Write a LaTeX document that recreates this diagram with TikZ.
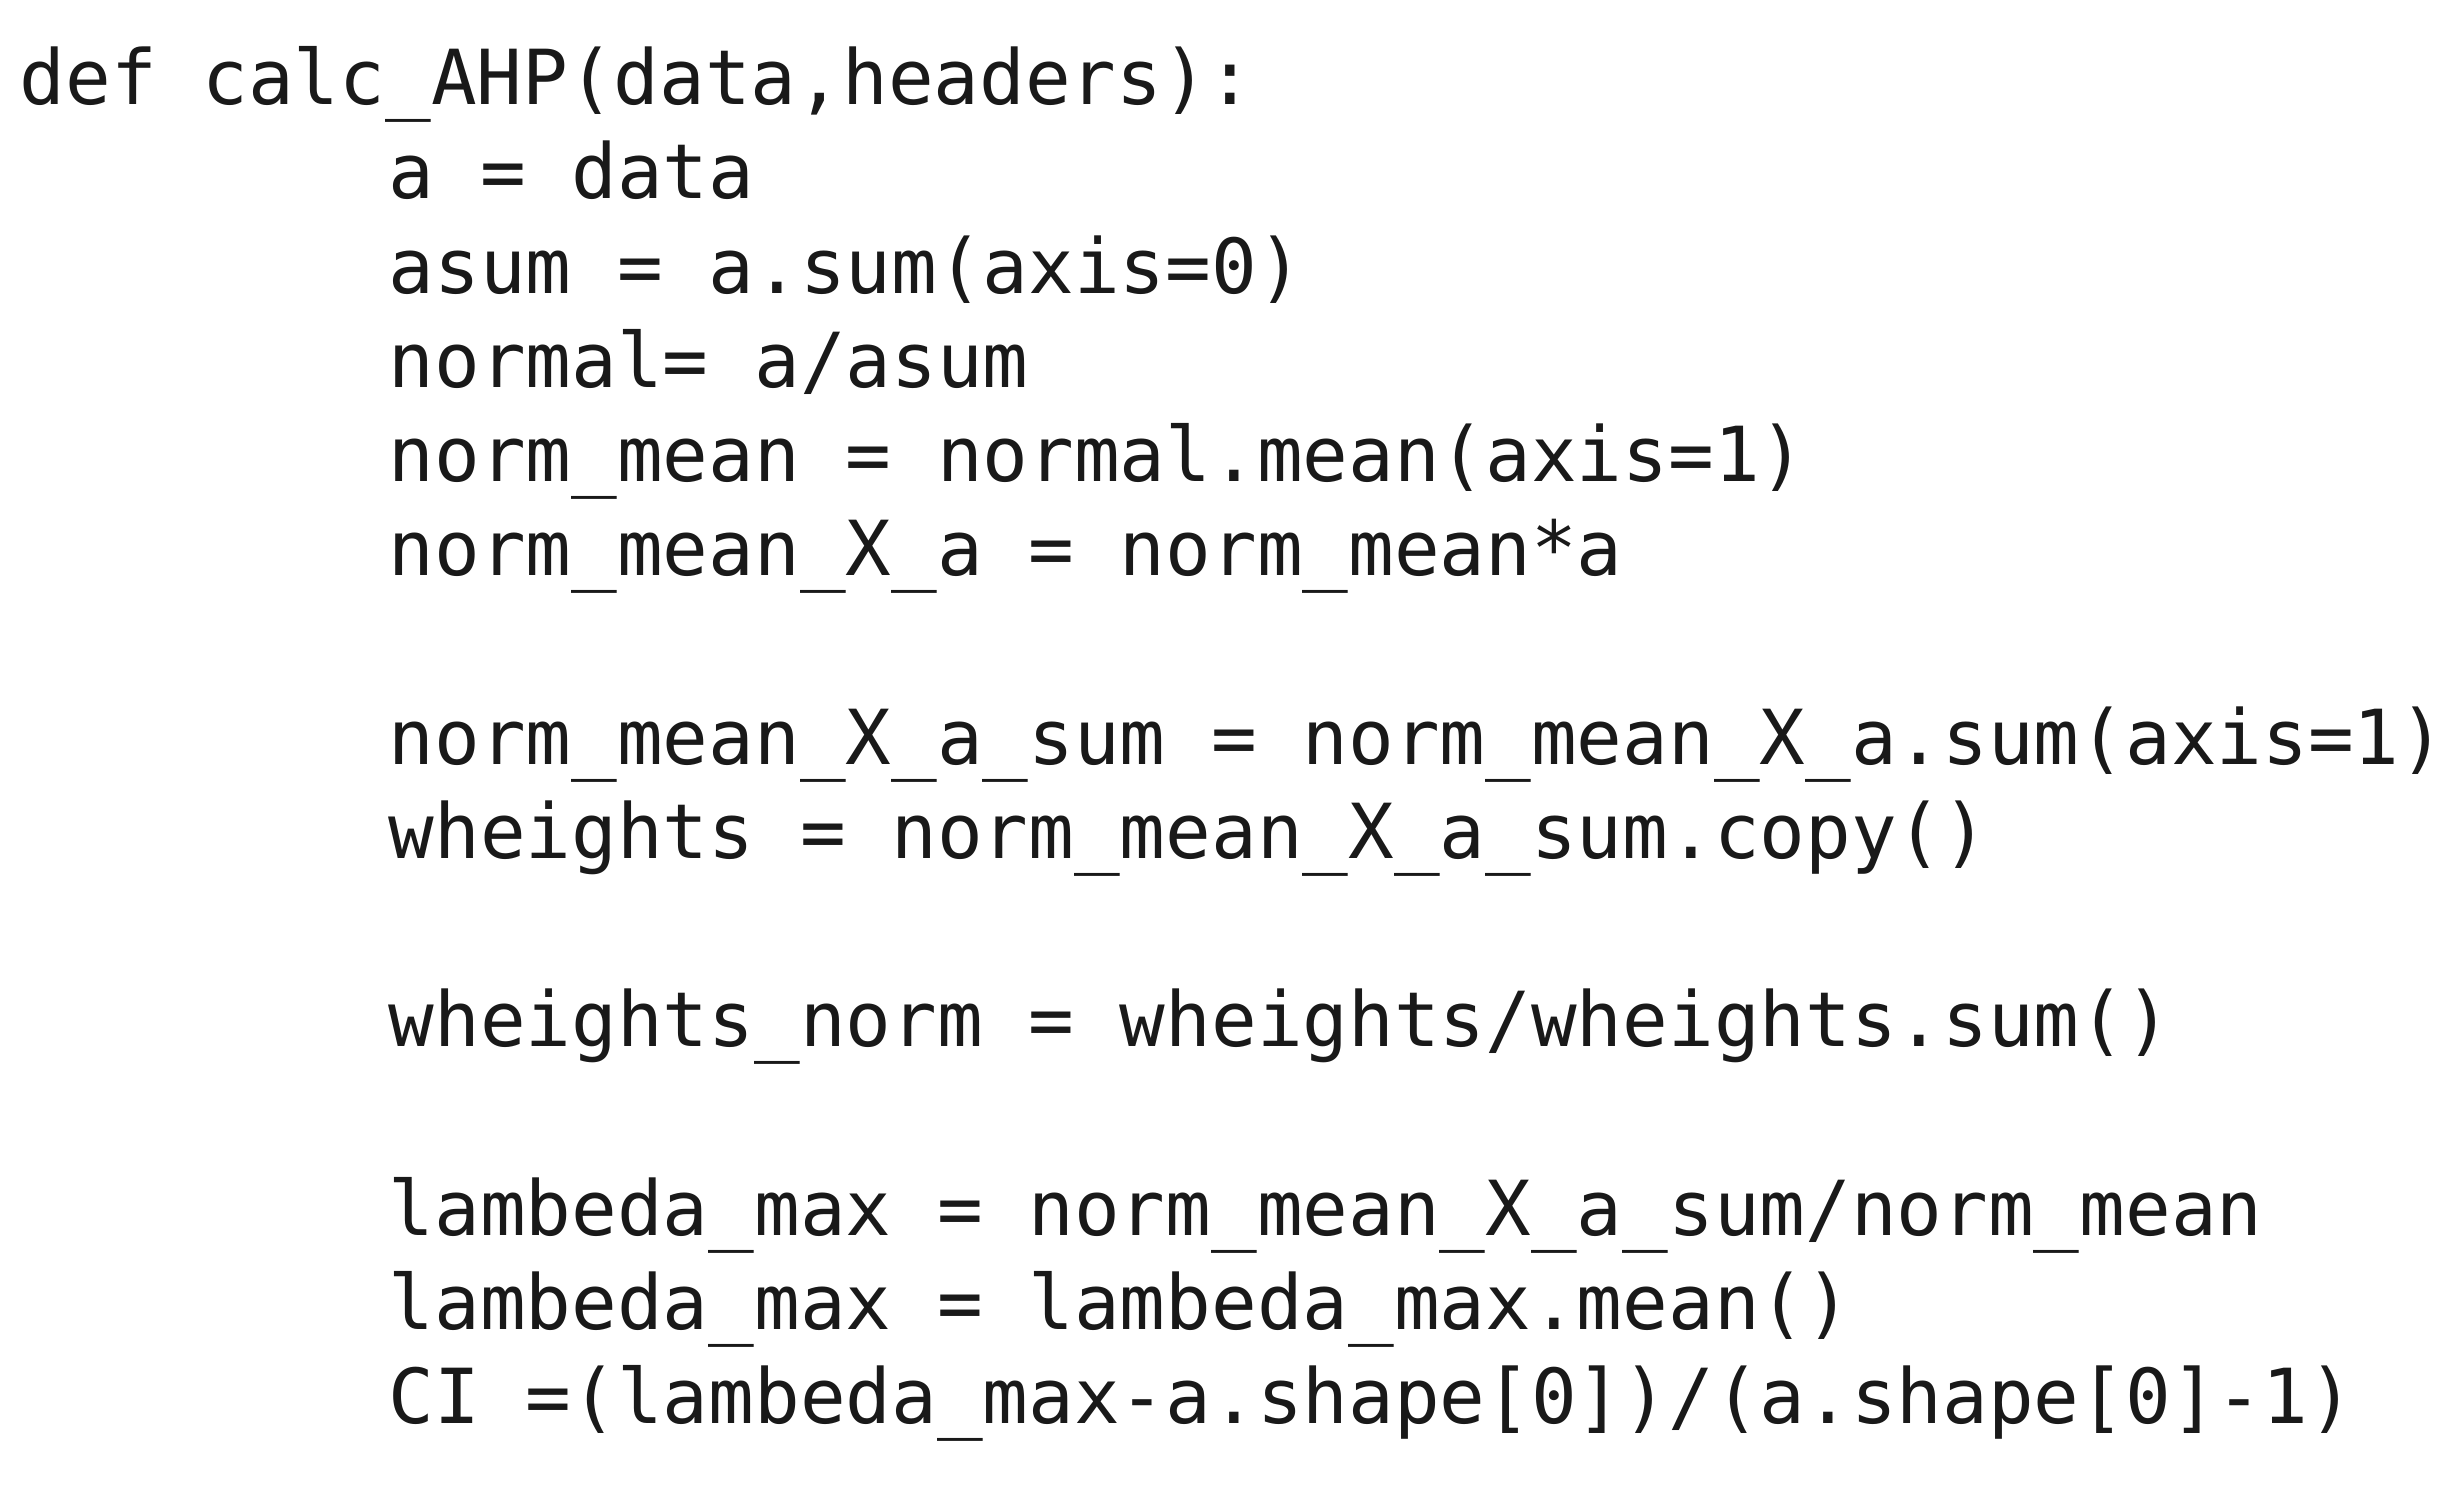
\documentclass[tikz,border=0pt]{standalone}
\usepackage{fontspec}
\setmonofont{DejaVu Sans Mono}
\begin{document}
\begin{tikzpicture}[x=1cm,y=1cm,
  code/.style={anchor=west,inner sep=0pt,font=\ttfamily\fontsize{21.6}{21.6}\selectfont,text height=0.72em,text depth=0.2em,text=black!90}]
\useasboundingbox (0,0) rectangle (24.62,-14.94);
\def\ind{3.88}
\node[code] (l0) at (0.19,-0.955) {def calc\_AHP(data,headers):};
\node[code] (l1) at (\ind,-1.897) {a = data};
\node[code] (l2) at (\ind,-2.839) {asum = a.sum(axis=0)};
\node[code] (l3) at (\ind,-3.781) {normal= a/asum};
\node[code] (l4) at (\ind,-4.723) {norm\_mean = normal.mean(axis=1)};
\node[code] (l5) at (\ind,-5.665) {norm\_mean\_X\_a = norm\_mean*a};
\node[code] (l7) at (\ind,-7.549) {norm\_mean\_X\_a\_sum = norm\_mean\_X\_a.sum(axis=1)};
\node[code] (l8) at (\ind,-8.491) {wheights = norm\_mean\_X\_a\_sum.copy()};
\node[code] (l10) at (\ind,-10.375) {wheights\_norm = wheights/wheights.sum()};
\node[code] (l12) at (\ind,-12.259) {lambeda\_max = norm\_mean\_X\_a\_sum/norm\_mean};
\node[code] (l13) at (\ind,-13.201) {lambeda\_max = lambeda\_max.mean()};
\node[code] (l14) at (\ind,-14.143) {CI =(lambeda\_max-a.shape[0])/(a.shape[0]-1)};
\end{tikzpicture}
\end{document}
